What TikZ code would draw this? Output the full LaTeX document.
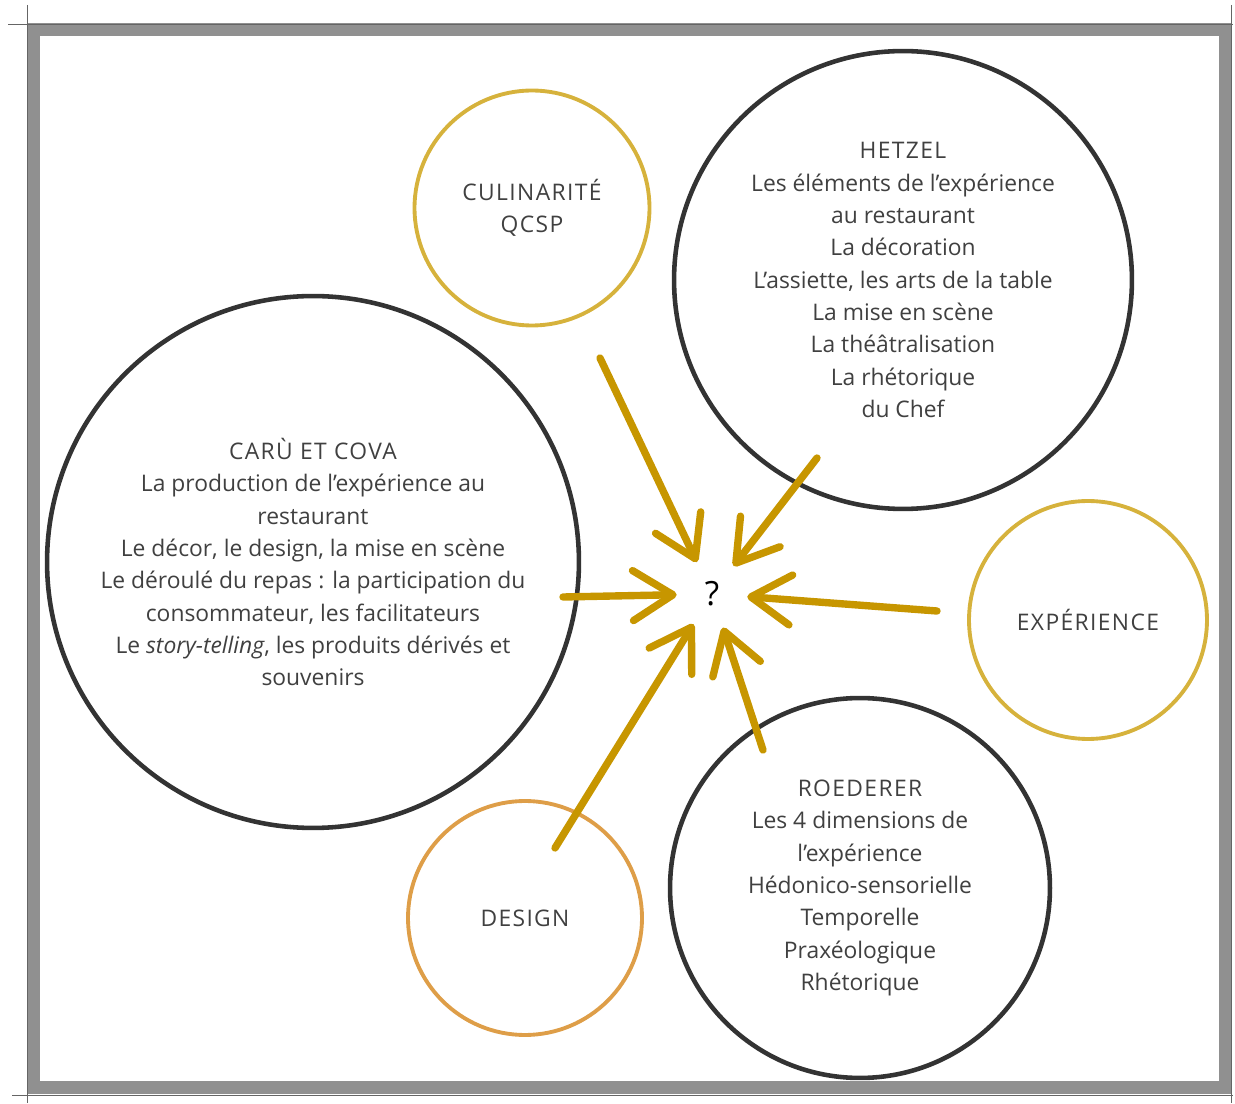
\documentclass[tikz,border=0pt]{standalone}
\usepackage{fontspec}
\setmainfont{Open Sans}
\usepackage{tikz}
\usetikzlibrary{positioning,arrows.meta}

\definecolor{ink}{HTML}{404040}
\definecolor{charcoal}{HTML}{333333}
\definecolor{ochre}{HTML}{D6B23C}
\definecolor{apricot}{HTML}{DE9E48}
\definecolor{mustard}{HTML}{C79600}
\definecolor{framegray}{HTML}{909090}

\newcommand{\ringtitle}[1]{{\addfontfeature{LetterSpace=6}#1}}

\tikzset{
  ring/.style={circle, draw, inner sep=0pt, align=center, text=ink,
    font=\fontsize{13}{18.4}\selectfont},
  darkring/.style={ring, draw=charcoal, line width=2.6pt},
  goldring/.style={ring, draw=ochre, line width=2.2pt},
  designring/.style={ring, draw=apricot, line width=2.2pt},
  ray/.style={draw=mustard, line width=4.2pt, line cap=round,
    -{Straight Barb[length=0.8cm, width=1.0cm, round]}},
}

\begin{document}
\begin{tikzpicture}[x=0.02cm, y=-0.02cm]
    \useasboundingbox (0,0) rectangle (1235,1104);

    % frame
    \draw[framegray, line width=0.26cm] (34,30) rectangle (1225,1087);
    \draw[framegray!70!black, line width=0.5pt] (8,24) -- (1233,24);
    \draw[framegray!70!black, line width=0.5pt] (12,1095) -- (1233,1095);
    \draw[framegray!70!black, line width=0.5pt] (27,5) -- (27,1103);
    \draw[framegray!70!black, line width=0.5pt] (1231,5) -- (1231,1103);

    % circles
    \node[goldring, minimum size=4.7cm] (culin) at (532,208) {\ringtitle{CULINARITÉ}\\\ringtitle{QCSP}};
    \node[darkring, minimum size=9.16cm] (hetzel) at (903,280) {\ringtitle{HETZEL}\\Les éléments de l’expérience\\au restaurant\\La décoration\\L’assiette, les arts de la table\\La mise en scène\\La théâtralisation\\La rhétorique\\du Chef};
    \node[darkring, minimum size=10.64cm] (caru) at (313,562) {\ringtitle{CARÙ ET COVA}\\La production de l’expérience au\\restaurant\\Le décor, le design, la mise en scène\\Le déroulé du repas : la participation du\\consommateur, les facilitateurs\\Le \textit{story-telling}, les produits dérivés et\\souvenirs};
    \node[goldring, minimum size=4.76cm] (exper) at (1088,620) {\ringtitle{EXPÉRIENCE}};
    \node[designring, minimum size=4.68cm] (design) at (525,918) {\ringtitle{DESIGN}};
    \node[darkring, minimum size=7.6cm] (roed) at (860,888) {\ringtitle{ROEDERER}\\Les 4 dimensions de\\l’expérience\\Hédonico-sensorielle\\Temporelle\\Praxéologique\\Rhétorique};

    % centre
    \node[circle, minimum size=1.4cm, inner sep=0pt, font=\fontsize{19}{22}\selectfont] (q) at (712,594) {?};

    % rays
    \coordinate (s1) at (600,358);
    \coordinate (s2) at (817,458);
    \coordinate (s3) at (563,597);
    \coordinate (s4) at (937,611);
    \coordinate (s5) at (555,848);
    \coordinate (s6) at (763,750);
    \foreach \s in {s1,s2,s3,s4,s5,s6}
        \draw[ray] (\s) -- (q);
\end{tikzpicture}
\end{document}
